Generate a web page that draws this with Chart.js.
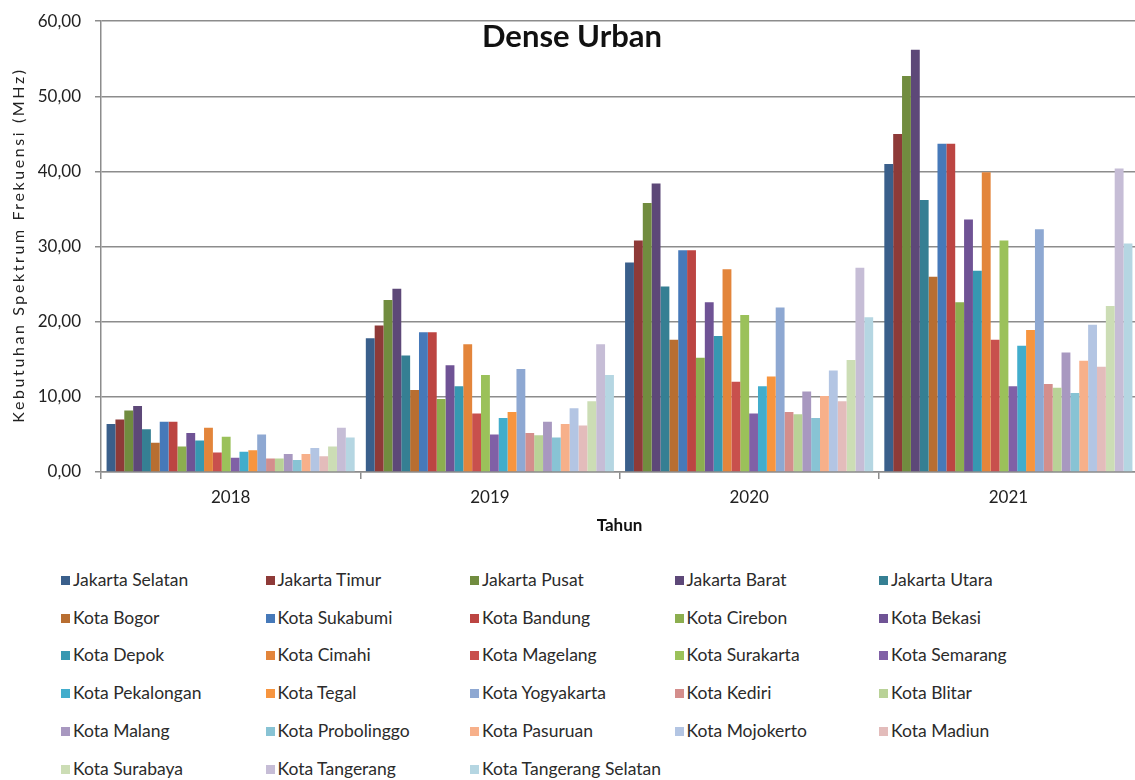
<!DOCTYPE html>
<html lang="id">
<head>
    <meta charset="UTF-8">
    <title>Dense Urban</title>
    <script src="https://cdn.jsdelivr.net/npm/chart.js"></script>
    <style>
        body {
            margin: 0;
            padding: 0;
            background: #fff;
            overflow: hidden;
            font-family: Lato, sans-serif;
        }
        .wrap {
            position: relative;
            width: 1135px;
            height: 780px;
            overflow: hidden;
        }
        #chart {
            position: absolute;
            left: 0;
            top: -3px;
        }
        .legend-item {
            position: absolute;
            font-size: 17.5px;
            color: #2b2b2b;
            white-space: nowrap;
            line-height: 18px;
        }
        .legend-item span {
            display: inline-block;
            width: 9px;
            height: 9px;
            margin-right: 3px;
            vertical-align: 1px;
        }
    </style>
</head>
<body>
    <div class="wrap">
        <canvas id="chart" width="1142" height="563"></canvas>
        <div id="legend"></div>
    </div>

    <script>
        // data
        const years = ['2018', '2019', '2020', '2021'];
        const regions = [
            'Jakarta Selatan', 'Jakarta Timur', 'Jakarta Pusat', 'Jakarta Barat', 'Jakarta Utara',
            'Kota Bogor', 'Kota Sukabumi', 'Kota Bandung', 'Kota Cirebon', 'Kota Bekasi',
            'Kota Depok', 'Kota Cimahi', 'Kota Magelang', 'Kota Surakarta', 'Kota Semarang',
            'Kota Pekalongan', 'Kota Tegal', 'Kota Yogyakarta', 'Kota Kediri', 'Kota Blitar',
            'Kota Malang', 'Kota Probolinggo', 'Kota Pasuruan', 'Kota Mojokerto', 'Kota Madiun',
            'Kota Surabaya', 'Kota Tangerang', 'Kota Tangerang Selatan'
        ];
        const val2018 = [6.4, 7.0, 8.2, 8.8, 5.7, 3.9, 6.7, 6.7, 3.4, 5.2, 4.2, 5.9, 2.6, 4.7,
                         1.9, 2.7, 2.9, 5.0, 1.8, 1.8, 2.4, 1.6, 2.4, 3.2, 2.1, 3.4, 5.9, 4.6];
        const val2019 = [17.8, 19.5, 22.9, 24.4, 15.5, 10.9, 18.6, 18.6, 9.7, 14.2, 11.4, 17.0, 7.8, 12.9,
                         5.0, 7.2, 8.0, 13.7, 5.2, 4.9, 6.7, 4.6, 6.4, 8.5, 6.2, 9.4, 17.0, 12.9];
        const val2020 = [27.9, 30.8, 35.8, 38.4, 24.7, 17.6, 29.5, 29.5, 15.2, 22.6, 18.1, 27.0, 12.0, 20.9,
                         7.8, 11.4, 12.7, 21.9, 8.0, 7.7, 10.7, 7.2, 10.1, 13.5, 9.4, 14.9, 27.2, 20.6];
        const val2021 = [41.0, 45.0, 52.7, 56.2, 36.2, 26.0, 43.7, 43.7, 22.6, 33.6, 26.8, 39.9, 17.6, 30.8,
                         11.4, 16.8, 18.9, 32.3, 11.7, 11.2, 15.9, 10.5, 14.8, 19.6, 14.0, 22.1, 40.4, 30.4];
        const yTicks = [0, 10, 20, 30, 40, 50, 60];

        const colors = [
            '#3A5F8B', '#8E3A38', '#718C3F', '#5D4878', '#357F93',
            '#B86E31', '#4679B9', '#BC4542', '#8CAE4F', '#6F5395',
            '#3798B1', '#E3853B', '#C8504D', '#9BC15A', '#8060A6',
            '#42ADCC', '#F7953F', '#8EA8D2', '#D48E8C', '#B9D297',
            '#A898C0', '#88C3D4', '#F7B08A', '#B3C5E3', '#E3BCBB',
            '#CCDDB5', '#C6BDD6', '#B5D6E2'
        ];

        const byYear = [val2018, val2019, val2020, val2021];
        const datasets = regions.map((name, i) => ({
            label: name,
            data: byYear.map(arr => arr[i]),
            backgroundColor: colors[i],
            borderWidth: 0,
            categoryPercentage: 0.957,
            barPercentage: 1.0
        }));

        const gridGray = '#8c8c8c';

        // chart title + rotated y title drawn on the canvas
        const overlayText = {
            id: 'overlayText',
            afterDraw(chart) {
                const ctx = chart.ctx;
                ctx.save();
                ctx.fillStyle = '#111';
                ctx.font = 'bold 31px Lato';
                ctx.textAlign = 'center';
                ctx.textBaseline = 'middle';
                ctx.fillText('Dense Urban', 572, 40);

                ctx.translate(19, 248);
                ctx.rotate(-Math.PI / 2);
                ctx.font = '16px Lato';
                ctx.fillStyle = '#222';
                ctx.letterSpacing = '2.6px';
                ctx.fillText('Kebutuhan Spektrum Frekuensi (MHz)', 0, 0);
                ctx.restore();
            }
        };

        const chart = new Chart(document.getElementById('chart'), {
            type: 'bar',
            data: { labels: years, datasets: datasets },
            options: {
                responsive: false,
                animation: false,
                layout: { padding: { top: 13, right: 4, left: 0, bottom: 0 } },
                plugins: {
                    legend: { display: false },
                    tooltip: { enabled: false }
                },
                scales: {
                    x: {
                        grid: {
                            display: true,
                            offset: true,
                            drawOnChartArea: false,
                            drawTicks: true,
                            tickLength: 7,
                            color: gridGray,
                            lineWidth: 1.5
                        },
                        border: { color: gridGray, width: 1.5 },
                        ticks: {
                            color: '#222',
                            font: { family: 'Lato', size: 17 },
                            padding: 8
                        },
                        title: {
                            display: true,
                            text: 'Tahun',
                            color: '#111',
                            font: { family: 'Lato', size: 17, weight: 'bold' },
                            padding: { top: 0, bottom: 24 }
                        },
                        afterFit(scale) { scale.height = 88; }
                    },
                    y: {
                        min: 0,
                        max: 60,
                        afterBuildTicks(scale) {
                            scale.ticks = yTicks.map(v => ({ value: v }));
                        },
                        grid: {
                            color: gridGray,
                            lineWidth: 1.5,
                            tickLength: 6
                        },
                        border: { color: gridGray, width: 1.5 },
                        ticks: {
                            color: '#222',
                            font: { family: 'Lato', size: 17 },
                            padding: 14,
                            callback: v => v.toFixed(2).replace('.', ',')
                        },
                        afterFit(scale) { scale.width = 101; }
                    }
                }
            },
            plugins: [overlayText]
        });

        // legend below the chart, five columns
        const legend = document.getElementById('legend');
        chart.data.datasets.forEach((ds, i) => {
            const col = i % 5;
            const row = Math.floor(i / 5);
            const item = document.createElement('div');
            item.className = 'legend-item';
            item.style.left = (61 + col * 204.5) + 'px';
            item.style.top = (571 + row * 37.7) + 'px';
            item.innerHTML = '<span style="background:' + ds.backgroundColor + '"></span>' + ds.label;
            legend.appendChild(item);
        });
    </script>
</body>
</html>
